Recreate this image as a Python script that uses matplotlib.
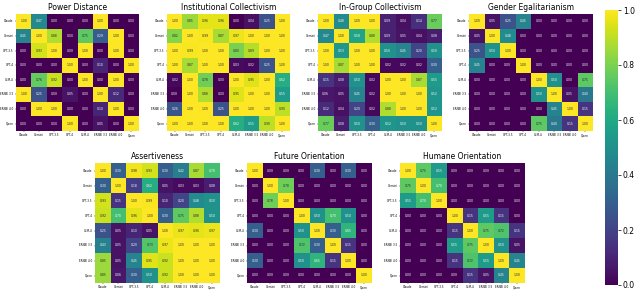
import numpy as np
import matplotlib
matplotlib.use("Agg")
import matplotlib.pyplot as plt
import seaborn as sns

models = ["Claude", "Gemini", "GPT-3.5", "GPT-4", "GLM-4", "ERNIE 3.5", "ERNIE 4.0", "Qwen"]

power_distance = [
    [1.00, 0.47, 0.00, 0.00, 0.00, 1.00, 0.00, 0.00],
    [0.45, 1.00, 0.88, 0.00, 0.75, 0.29, 1.00, 0.00],
    [0.00, 0.93, 1.00, 0.00, 1.00, 0.00, 1.00, 0.00],
    [0.00, 0.00, 0.00, 1.00, 0.00, 0.10, 0.00, 1.00],
    [0.00, 0.76, 0.92, 0.00, 1.00, 0.00, 1.00, 0.00],
    [1.00, 0.25, 0.00, 0.05, 0.00, 1.00, 0.12, 0.00],
    [0.00, 1.00, 1.00, 0.00, 0.00, 0.10, 1.00, 0.00],
    [0.00, 0.00, 0.00, 1.00, 0.00, 0.05, 0.00, 1.00],
]

institutional = [
    [1.00, 0.85, 0.96, 0.96, 0.00, 0.04, 0.25, 1.00],
    [0.82, 1.00, 0.99, 0.87, 0.97, 1.00, 1.00, 1.00],
    [1.00, 0.99, 1.00, 1.00, 0.80, 0.89, 1.00, 1.00],
    [1.00, 0.87, 1.00, 1.00, 0.03, 0.02, 0.25, 1.00],
    [0.02, 1.00, 0.78, 0.00, 1.00, 0.95, 1.00, 0.62],
    [0.00, 1.00, 0.88, 0.00, 0.95, 1.00, 1.00, 0.55],
    [0.26, 1.00, 1.00, 0.25, 1.00, 1.00, 1.00, 0.90],
    [1.00, 1.00, 1.00, 1.00, 0.62, 0.55, 0.90, 1.00],
]

in_group = [
    [1.00, 0.48, 1.00, 1.00, 0.09, 0.04, 0.14, 0.77],
    [0.47, 1.00, 0.58, 0.88, 0.09, 0.05, 0.04, 0.08],
    [1.00, 0.53, 1.00, 1.00, 0.50, 0.45, 0.20, 0.50],
    [1.00, 0.87, 1.00, 1.00, 0.02, 0.02, 0.02, 0.30],
    [0.15, 0.08, 0.50, 0.02, 1.00, 1.00, 0.87, 0.55],
    [0.06, 0.05, 0.45, 0.02, 1.00, 1.00, 1.00, 0.52],
    [0.12, 0.04, 0.20, 0.02, 0.88, 1.00, 1.00, 0.52],
    [0.77, 0.08, 0.50, 0.30, 0.52, 0.50, 0.50, 1.00],
]

gender = [
    [1.00, 0.05, 0.25, 0.45, 0.00, 0.00, 0.00, 0.00],
    [0.05, 1.00, 0.48, 0.00, 0.00, 0.00, 0.00, 0.00],
    [0.25, 0.50, 1.00, 0.00, 0.00, 0.00, 0.00, 0.00],
    [0.45, 0.00, 0.00, 1.00, 0.00, 0.00, 0.00, 0.00],
    [0.00, 0.00, 0.00, 0.00, 1.00, 0.50, 0.00, 0.75],
    [0.00, 0.00, 0.00, 0.00, 0.50, 1.00, 0.05, 0.40],
    [0.00, 0.00, 0.00, 0.00, 0.00, 0.45, 1.00, 0.15],
    [0.00, 0.00, 0.00, 0.00, 0.75, 0.40, 0.15, 1.00],
]

assertiveness = [
    [1.00, 0.30, 0.98, 0.93, 0.30, 0.42, 0.87, 0.70],
    [0.30, 1.00, 0.18, 0.62, 0.05, 0.03, 0.03, 0.08],
    [0.93, 0.15, 1.00, 0.99, 0.10, 0.20, 0.48, 0.50],
    [0.92, 0.70, 0.96, 1.00, 0.30, 0.75, 0.88, 0.50],
    [0.25, 0.05, 0.10, 0.05, 1.00, 0.97, 0.96, 0.97],
    [0.43, 0.05, 0.20, 0.73, 0.97, 1.00, 1.00, 1.00],
    [0.85, 0.05, 0.45, 0.95, 0.92, 1.00, 1.00, 1.00],
    [0.85, 0.06, 0.30, 0.50, 0.92, 1.00, 1.00, 1.00],
]

future = [
    [1.00, 0.00, 0.00, 0.00, 0.30, 0.00, 0.30, 0.00],
    [0.00, 1.00, 0.78, 0.00, 0.00, 0.00, 0.00, 0.00],
    [0.00, 0.78, 1.00, 0.00, 0.00, 0.00, 0.00, 0.00],
    [0.00, 0.00, 0.00, 1.00, 0.50, 0.70, 0.50, 0.00],
    [0.30, 0.00, 0.00, 0.50, 1.00, 0.30, 0.65, 0.00],
    [0.00, 0.00, 0.00, 0.72, 0.30, 1.00, 0.15, 0.00],
    [0.30, 0.00, 0.00, 0.50, 0.65, 0.15, 1.00, 0.00],
    [0.00, 0.00, 0.00, 0.00, 0.00, 0.00, 0.00, 1.00],
]

humane = [
    [1.00, 0.75, 0.55, 0.00, 0.00, 0.00, 0.00, 0.00],
    [0.75, 1.00, 0.70, 0.00, 0.00, 0.00, 0.00, 0.00],
    [0.55, 0.70, 1.00, 0.00, 0.00, 0.00, 0.00, 0.00],
    [0.00, 0.00, 0.00, 1.00, 0.15, 0.55, 0.15, 0.00],
    [0.00, 0.00, 0.00, 0.15, 1.00, 0.75, 0.72, 0.15],
    [0.00, 0.00, 0.00, 0.55, 0.75, 1.00, 0.50, 0.05],
    [0.00, 0.00, 0.00, 0.15, 0.72, 0.55, 1.00, 0.45],
    [0.00, 0.00, 0.00, 0.00, 0.15, 0.05, 0.45, 1.00],
]

panels = [
    ("Power Distance", power_distance),
    ("Institutional Collectivism", institutional),
    ("In-Group Collectivism", in_group),
    ("Gender Egalitarianism", gender),
    ("Assertiveness", assertiveness),
    ("Future Orientation", future),
    ("Humane Orientation", humane),
]

W, H = 640, 293
# pixel boxes (left, top, width, height)
boxes = [
    (16, 14, 123, 117), (167, 14, 123, 117), (318, 14, 124, 117), (469, 14, 124, 117),
    (95, 163, 125, 120), (247, 163, 125, 120), (400, 163, 125, 120),
]


def rect(l, t, w, h):
    return [l / W, 1 - (t + h) / H, w / W, h / H]


fig = plt.figure(figsize=(6.4, 2.93), dpi=100)

for (title, data), box in zip(panels, boxes):
    ax = fig.add_axes(rect(*box))
    sns.heatmap(np.array(data), ax=ax, cmap="viridis", vmin=0, vmax=1, cbar=False,
                annot=True, fmt=".2f", annot_kws={"size": 2.2},
                xticklabels=models, yticklabels=models)
    ax.set_title(title, fontsize=5.5, pad=3)
    ax.tick_params(axis="both", labelsize=2.0, length=1, width=0.3, pad=0.8)
    plt.setp(ax.get_yticklabels(), rotation=0)
    plt.setp(ax.get_xticklabels(), rotation=0)

cax = fig.add_axes(rect(605, 10, 13, 275))
sm = plt.cm.ScalarMappable(cmap="viridis", norm=plt.Normalize(0, 1))
cb = fig.colorbar(sm, cax=cax)
cb.outline.set_visible(False)
cb.set_ticks([0.0, 0.2, 0.4, 0.6, 0.8, 1.0])
cb.ax.tick_params(labelsize=5.5, length=2, width=0.5, pad=1.5)

fig.savefig("out.png", dpi=100)
